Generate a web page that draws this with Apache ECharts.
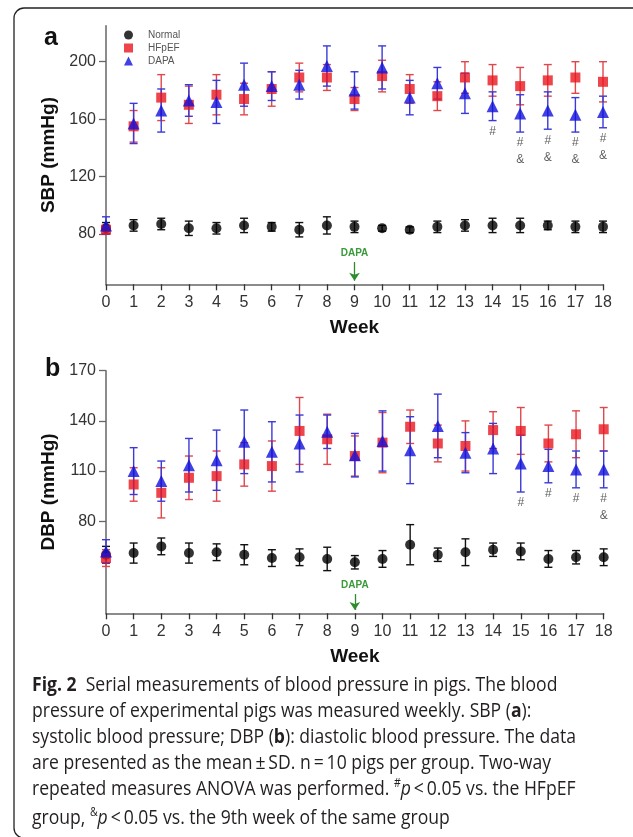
<!DOCTYPE html>
<html>
<head>
<meta charset="utf-8">
<script src="https://cdn.jsdelivr.net/npm/echarts@6/dist/echarts.min.js"></script>
<style>
  html, body { margin: 0; padding: 0; background: #fff; }
  #wrap { position: relative; width: 633px; height: 837px; overflow: hidden; }
  #chart { position: absolute; left: 0; top: 0; width: 633px; height: 837px; }
  #caption { position: absolute; left: 32px; top: 671px; font-family: "Open Sans", "Noto Sans", sans-serif;
    font-size: 20px; line-height: 26px; color: #231f20; transform-origin: 0 0; white-space: nowrap; }
  #caption .ln { display: block; }
  #caption sup { font-size: 12px; vertical-align: 0; position: relative; top: -8px; }
</style>
</head>
<body>
<div id="wrap">
  <div id="chart"></div>
  <div id="caption">
    <span class="ln" id="ln1"><b>Fig. 2</b>&nbsp; Serial measurements of blood pressure in pigs. The blood</span>
    <span class="ln">pressure of experimental pigs was measured weekly. SBP (<b>a</b>):</span>
    <span class="ln">systolic blood pressure; DBP (<b>b</b>): diastolic blood pressure. The data</span>
    <span class="ln">are presented as the mean&#8201;±&#8201;SD. n&#8201;=&#8201;10 pigs per group. Two-way</span>
    <span class="ln">repeated measures ANOVA was performed. <sup>#</sup><i>p</i>&#8201;&lt;&#8201;0.05 vs. the HFpEF</span>
    <span class="ln">group, <sup>&amp;</sup><i>p</i>&#8201;&lt;&#8201;0.05 vs. the 9th week of the same group</span>
  </div>
</div>
<script>
// ---------------- data ----------------
const weeks = [0,1,2,3,4,5,6,7,8,9,10,11,12,13,14,15,16,17,18];
const seriesNames = ['Normal', 'HFpEF', 'DAPA'];

// SBP (panel a): means and SDs
const sbpNormal   = [84, 86, 87, 84, 84, 86, 85, 83, 86, 85, 84, 83, 85, 86, 86, 86, 86, 85, 85];
const sbpNormalSD = [4, 4, 4, 5, 4, 5, 3, 5, 6, 4, 2, 2, 4, 4, 5, 5, 3, 4, 4];
const sbpHF       = [83, 155, 175, 170, 177, 174, 181, 189, 189, 174, 190, 181, 176, 189, 187, 183, 187, 189, 186];
const sbpHFSD     = [3, 11, 16, 13, 14, 11, 12, 10, 9, 8, 11, 10, 10, 11, 11, 13, 11, 11, 14];
const sbpDAPA     = [86, 157, 166, 173, 172, 184, 183, 184, 197, 180, 196, 175, 185, 178, 169, 164, 166, 163, 165];
const sbpDAPASD   = [6, 14, 15, 11, 15, 15, 10, 10, 14, 13, 15, 12, 11, 14, 10, 13, 13, 12, 11];

// DBP (panel b): means and SDs
const dbpNormal   = [60, 61, 65, 61, 61.5, 60, 58, 58.5, 57.5, 55.5, 57.5, 66, 60, 61.5, 63, 62, 57.5, 58.5, 58.5];
const dbpNormalSD = [5, 6, 5, 6, 5, 6, 5, 5, 7, 4, 5, 12, 4, 8, 4, 5, 5, 4, 5];
const dbpHF       = [58, 102, 97, 106, 107, 114, 113, 134, 129, 119, 127, 136.5, 126.5, 125, 134.5, 134, 126.5, 132, 135];
const dbpHFSD     = [5, 10, 15, 13, 15, 13, 15, 20, 15, 12, 18, 10, 11, 15, 11, 14, 11, 14, 13];
const dbpDAPA     = [62, 110, 104, 113.5, 116.5, 127.5, 121.5, 126.5, 133.5, 119.5, 128, 122.5, 137, 121, 123.5, 114.5, 113, 111, 111];
const dbpDAPASD   = [7, 14, 12, 16, 18, 19, 18, 17, 10, 13, 18, 20, 19, 12, 15, 17, 10, 11, 11];

// significance marks (placed under the DAPA error bar)
const sbpMarkWeeks = [14, 15, 16, 17, 18];
const sbpMarkText  = ['#', '#\n&', '#\n&', '#\n&', '#\n&'];
const dbpMarkWeeks = [15, 16, 17, 18];
const dbpMarkText  = ['#', '#', '#', '#\n&'];

// axis ticks
const sbpTicks = [80, 120, 160, 200];
const dbpTicks = [80, 110, 140, 170];
const sbpRange = [45, 225];
const dbpRange = [25, 170];

// DAPA start arrow (data-space ends)
const dapaWeek = 9;
const sbpArrow = [60.5, 47.5];
const dbpArrow = [36.5, 27];

// ---------------- styles ----------------
const colors = { Normal: '#000000', HFpEF: '#e8161e', DAPA: '#1212dc' };
const barColors = { Normal: '#111111', HFpEF: '#e0474c', DAPA: '#3a3ad8' };
const symbols = { Normal: 'circle', HFpEF: 'rect', DAPA: 'triangle' };
const symSizes = { Normal: 10, HFpEF: 10, DAPA: 12 };
const axisColor = '#666';
const labelFont = '"Liberation Sans", Arial, sans-serif';

function errorSeries(name, means, sds, idx) {
  return {
    type: 'custom', name: name + ' SD', xAxisIndex: idx, yAxisIndex: idx, z: 2,
    silent: true, animation: false,
    data: weeks.map((w, i) => [w, means[i], sds[i]]),
    renderItem: function (params, api) {
      const x = api.value(0), m = api.value(1), s = api.value(2);
      const t = api.coord([x, m + s]);
      const b = api.coord([x, m - s]);
      const hw = 4;
      const st = { stroke: barColors[name], lineWidth: 1.4 };
      return { type: 'group', children: [
        { type: 'line', shape: { x1: t[0], y1: t[1], x2: b[0], y2: b[1] }, style: st },
        { type: 'line', shape: { x1: t[0] - hw, y1: t[1], x2: t[0] + hw, y2: t[1] }, style: st },
        { type: 'line', shape: { x1: b[0] - hw, y1: b[1], x2: b[0] + hw, y2: b[1] }, style: st }
      ]};
    }
  };
}
function pointSeries(name, means, idx) {
  return {
    type: 'scatter', name: name, xAxisIndex: idx, yAxisIndex: idx, z: 3,
    symbol: symbols[name], symbolSize: symSizes[name],
    itemStyle: { color: colors[name] }, animation: false,
    data: weeks.map((w, i) => [w, means[i]])
  };
}
function markSeries(markWeeks, markText, means, sds, idx) {
  return {
    type: 'scatter', xAxisIndex: idx, yAxisIndex: idx, z: 4, silent: true, animation: false,
    symbolSize: 1, itemStyle: { color: 'rgba(0,0,0,0)' },
    label: { show: true, position: 'bottom', distance: 2, fontSize: 12, lineHeight: 17,
      color: '#333', fontFamily: labelFont, formatter: p => markText[p.dataIndex] },
    data: markWeeks.map(w => [w, means[w] - sds[w]])
  };
}
function arrowSeries(idx, ends) {
  return {
    type: 'scatter', xAxisIndex: idx, yAxisIndex: idx, data: [], silent: true, animation: false,
    markLine: {
      silent: true, animation: false, symbol: ['none', 'arrow'], symbolSize: 8,
      lineStyle: { color: '#2e8b2e', width: 1.3, type: 'solid' },
      label: { show: true, position: 'start', formatter: 'DAPA', color: '#3a9a3a', fontSize: 10,
        fontWeight: 'bold', fontFamily: labelFont, distance: 4 },
      data: [[{ coord: [dapaWeek, ends[0]] }, { coord: [dapaWeek, ends[1]] }]]
    }
  };
}
function xAxis(idx) {
  return {
    type: 'value', gridIndex: idx, min: 0, max: 18, interval: 1,
    name: 'Week', nameLocation: 'middle', nameGap: 34,
    nameTextStyle: { fontSize: 19, fontWeight: 'bold', color: '#111', fontFamily: labelFont },
    axisLine: { lineStyle: { color: axisColor, width: 1.5 } },
    axisTick: { length: 6, lineStyle: { color: '#333', width: 1.3 } },
    axisLabel: { fontSize: 16, color: '#333', margin: 10, fontFamily: labelFont },
    splitLine: { show: false }
  };
}
function yAxis(idx, name, range, ticks) {
  return {
    type: 'value', gridIndex: idx, min: range[0], max: range[1],
    name: name, nameLocation: 'middle', nameGap: 44, nameRotate: 90,
    nameTextStyle: { fontSize: 19, fontWeight: 'bold', color: '#111', fontFamily: labelFont },
    axisLine: { show: true, lineStyle: { color: axisColor, width: 1.5 } },
    axisTick: { show: true, length: 7, customValues: ticks, lineStyle: { color: axisColor, width: 1.3 } },
    axisLabel: { fontSize: 16, color: '#333', margin: 10, customValues: ticks, fontFamily: labelFont },
    splitLine: { show: false }
  };
}

const chart = echarts.init(document.getElementById('chart'), null, { renderer: 'canvas' });
chart.setOption({
  backgroundColor: '#fff',
  animation: false,
  grid: [
    { left: 106, top: 25.8, width: 497, height: 258.5 },
    { left: 106, top: 370.7, width: 497.7, height: 242.6 }
  ],
  legend: {
    orient: 'vertical', left: 119, top: 25, itemWidth: 9, itemHeight: 9, itemGap: 3,
    textStyle: { fontSize: 10, color: '#555', fontFamily: labelFont, padding: [0, 0, 0, 10] },
    data: seriesNames.map(n => ({ name: n, icon: symbols[n], itemStyle: { color: colors[n] } }))
  },
  graphic: [
    { type: 'rect', shape: { x: 14, y: 8, width: 640, height: 830, r: 10 }, style: { fill: 'none', stroke: '#222', lineWidth: 1.3 }, silent: true },
    { type: 'text', x: 44, y: 38, style: { text: 'a', font: 'bold 25px "Liberation Sans", Arial, sans-serif', fill: '#111', verticalAlign: 'middle' } },
    { type: 'text', x: 45, y: 369, style: { text: 'b', font: 'bold 25px "Liberation Sans", Arial, sans-serif', fill: '#111', verticalAlign: 'middle' } }
  ],
  xAxis: [xAxis(0), xAxis(1)],
  yAxis: [yAxis(0, 'SBP (mmHg)', sbpRange, sbpTicks), yAxis(1, 'DBP (mmHg)', dbpRange, dbpTicks)],
  series: [
    errorSeries('Normal', sbpNormal, sbpNormalSD, 0),
    errorSeries('HFpEF', sbpHF, sbpHFSD, 0),
    errorSeries('DAPA', sbpDAPA, sbpDAPASD, 0),
    pointSeries('Normal', sbpNormal, 0),
    pointSeries('HFpEF', sbpHF, 0),
    pointSeries('DAPA', sbpDAPA, 0),
    markSeries(sbpMarkWeeks, sbpMarkText, sbpDAPA, sbpDAPASD, 0),
    arrowSeries(0, sbpArrow),
    errorSeries('Normal', dbpNormal, dbpNormalSD, 1),
    errorSeries('HFpEF', dbpHF, dbpHFSD, 1),
    errorSeries('DAPA', dbpDAPA, dbpDAPASD, 1),
    pointSeries('Normal', dbpNormal, 1),
    pointSeries('HFpEF', dbpHF, 1),
    pointSeries('DAPA', dbpDAPA, 1),
    markSeries(dbpMarkWeeks, dbpMarkText, dbpDAPA, dbpDAPASD, 1),
    arrowSeries(1, dbpArrow)
  ]
});

// fit caption width to the reference line length
const ln1 = document.getElementById('ln1');
const w = ln1.getBoundingClientRect().width;
const sx = 544 / w;
document.getElementById('caption').style.transform = 'scaleX(' + sx.toFixed(4) + ')';
</script>
</body>
</html>
